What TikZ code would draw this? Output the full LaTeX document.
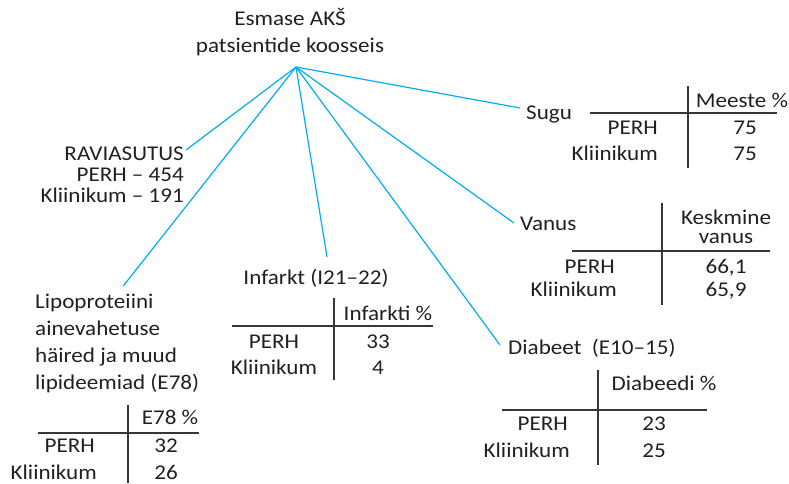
\documentclass[tikz,border=0pt]{standalone}
\usepackage{fontspec}
\setmainfont{Carlito}[FakeStretch=1.1]
\definecolor{skyline}{RGB}{0,174,239}
\definecolor{ink}{RGB}{35,31,32}
\begin{document}
\begin{tikzpicture}[
    x=1pt, y=-1pt,
    lbl/.style={font=\fontsize{21}{27}\selectfont, text=ink, inner sep=2pt},
    cell/.style={lbl, text height=14pt, text depth=0pt},
    link/.style={draw=skyline, line width=1.2pt},
    rule/.style={draw=ink!90, line width=1.3pt}
]
\useasboundingbox (0,0) rectangle (789,483);

% pealkiri ja koondumispunkt
\node[lbl, align=center, anchor=north] (title) at (290,6) {Esmase AKŠ\\patsientide koosseis};
\coordinate (apex) at (296,67);

% raviasutus
\node[lbl, align=right, anchor=north east, font=\fontsize{21}{21}\selectfont] (ravi) at (186,145) {RAVIASUTUS\\PERH – 454\\Kliinikum – 191};

% sugu
\node[cell, anchor=west] (sugu) at (524,112) {Sugu};
\node[cell] (sugu-head) at (742,100) {Meeste \%};
\node[cell, anchor=east] (sugu-perh) at (660,127) {PERH};
\node[cell, anchor=east] (sugu-klin) at (660,153) {Kliinikum};
\node[cell] (sugu-v1) at (745,127) {75};
\node[cell] (sugu-v2) at (745,153) {75};
\draw[rule] (590,113) -- (777,113);
\draw[rule] (688,86) -- (688,168);

% vanus
\node[cell, anchor=west] (vanus) at (518,223) {Vanus};
\node[lbl, align=center, font=\fontsize{21}{19}\selectfont] (vanus-head) at (726,227) {Keskmine\\vanus};
\node[cell, anchor=east] (vanus-perh) at (617,266) {PERH};
\node[cell, anchor=east] (vanus-klin) at (619,289) {Kliinikum};
\node[cell] (vanus-v1) at (726,266) {66,1};
\node[cell] (vanus-v2) at (726,289) {65,9};
\draw[rule] (572,251) -- (770,251);
\draw[rule] (662,203) -- (662,305);

% infarkt
\node[cell] (infarkt) at (316,277) {Infarkt (I21–22)};
\node[cell] (infarkt-head) at (388,313) {Infarkti \%};
\node[cell] (infarkt-perh) at (274,341) {PERH};
\node[cell] (infarkt-klin) at (274,367) {Kliinikum};
\node[cell] (infarkt-v1) at (378,341) {33};
\node[cell] (infarkt-v2) at (378,367) {4};
\draw[rule] (232,326) -- (433,326);
\draw[rule] (334,298) -- (334,380);

% diabeet
\node[cell, anchor=west] (diabeet) at (506,347) {Diabeet\ \ (E10–15)};
\node[cell] (diabeet-head) at (664,383) {Diabeedi \%};
\node[cell, anchor=east] (diabeet-perh) at (570,423) {PERH};
\node[cell, anchor=east] (diabeet-klin) at (572,450) {Kliinikum};
\node[cell] (diabeet-v1) at (654,423) {23};
\node[cell] (diabeet-v2) at (654,450) {25};
\draw[rule] (502,410) -- (707,410);
\draw[rule] (598,370) -- (598,465);

% lipideemiad
\node[lbl, align=left, anchor=north west] (lipo) at (33,292) {Lipoproteiini\\ainevahetuse\\häired ja muud\\lipideemiad (E78)};
\node[cell] (lipo-head) at (170,417) {E78 \%};
\node[cell, anchor=east] (lipo-perh) at (97,445) {PERH};
\node[cell, anchor=east] (lipo-klin) at (99,472) {Kliinikum};
\node[cell] (lipo-v1) at (166,445) {32};
\node[cell] (lipo-v2) at (166,472) {26};
\draw[rule] (38,433) -- (199,433);
\draw[rule] (128,405) -- (128,483);

% harud
\draw[link] ([yshift=-5pt]ravi.north east) -- (apex);
\draw[link] ([xshift=6pt,yshift=6pt]lipo.north) -- (apex);
\draw[link] ([xshift=11pt,yshift=11pt]infarkt.north) -- (apex);
\draw[link] ([xshift=-6pt,yshift=2pt]diabeet.west) -- (apex);
\draw[link] ([xshift=-4pt]vanus.west) -- (apex);
\draw[link] ([xshift=-4pt,yshift=4pt]sugu.west) -- (apex);

\end{tikzpicture}
\end{document}
